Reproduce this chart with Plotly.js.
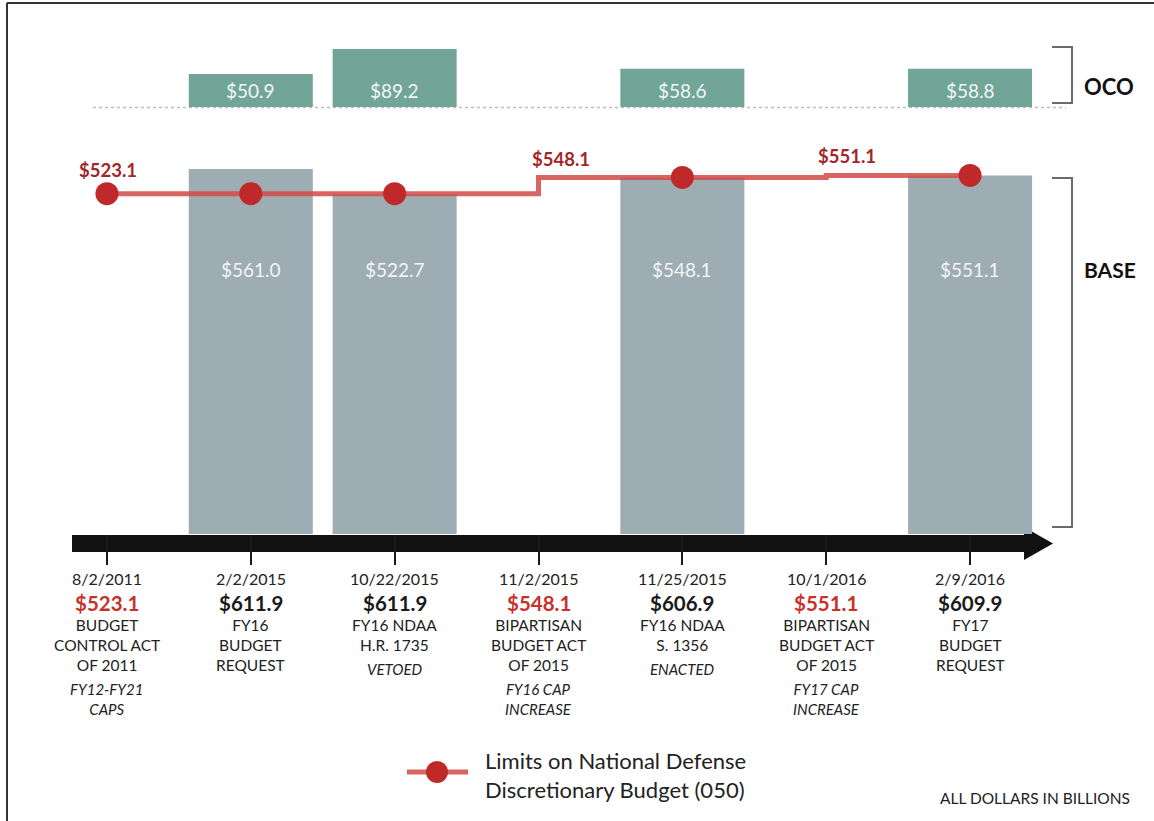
<!DOCTYPE html>
<html>
<head>
<meta charset="utf-8">
<script src="https://cdn.plot.ly/plotly-3.0.1.min.js"></script>
<style>html,body{margin:0;padding:0;background:#fff;}#chart{width:1154px;height:821px;}</style>
</head>
<body>
<div id="chart"></div>
<script>
// ---- data ----
const dates = ['8/2/2011','2/2/2015','10/22/2015','11/2/2015','11/25/2015','10/1/2016','2/9/2016'];
const totals = [523.1, 611.9, 611.9, 548.1, 606.9, 551.1, 609.9];
const isCapEvent = [true, false, false, true, false, true, false];
const descriptions = ['BUDGET<br>CONTROL ACT<br>OF 2011','FY16<br>BUDGET<br>REQUEST','FY16 NDAA<br>H.R. 1735','BIPARTISAN<br>BUDGET ACT<br>OF 2015','FY16 NDAA<br>S. 1356','BIPARTISAN<br>BUDGET ACT<br>OF 2015','FY17<br>BUDGET<br>REQUEST'];
const notes = ['FY12-FY21<br>CAPS','','VETOED','FY16 CAP<br>INCREASE','ENACTED','FY17 CAP<br>INCREASE',''];
const baseVals = [null, 561.0, 522.7, null, 548.1, null, 551.1];
const ocoVals = [null, 50.9, 89.2, null, 58.6, null, 58.8];
const capVals = [523.1, 523.1, 523.1, 548.1, 548.1, 551.1, 551.1];
const showDot = [true, true, true, false, true, false, true];
const legendText = ['Limits on National Defense','Discretionary Budget (050)'];
const noteText = 'ALL DOLLARS IN BILLIONS';

// ---- helpers ----
const W = 1154, H = 821;
const X = p => p / W;
const Y = p => 1 - p / H;
const FONT = 'Lato, "Open Sans", sans-serif';
const idx = dates.map((d, i) => i);
const fmt = v => '$' + v.toFixed(1);
const PXU = 365 / 561.0; // pixels per unit (shared scale)

const RED = '#c0292a';
const traces = [
  {type:'bar', x: idx, y: baseVals, width: 0.862, marker:{color:'#9eacb3'}, hoverinfo:'skip', xaxis:'x', yaxis:'y'},
  {type:'bar', x: idx, y: ocoVals, width: 0.862, marker:{color:'#71a597'}, hoverinfo:'skip', xaxis:'x', yaxis:'y2'},
  {type:'scatter', mode:'lines', x: idx, y: capVals, line:{shape:'hv', color:'rgba(210,74,70,0.85)', width:5}, hoverinfo:'skip', cliponaxis:false, xaxis:'x', yaxis:'y'},
  {type:'scatter', mode:'markers', x: idx.filter(i => showDot[i]), y: capVals.filter((v,i) => showDot[i]),
   marker:{color:RED, size:23, line:{width:0}}, cliponaxis:false, hoverinfo:'skip', xaxis:'x', yaxis:'y'}
];

const annotations = [];
const ann = o => annotations.push(Object.assign({showarrow:false, xanchor:'center', yanchor:'middle'}, o));
// bar value labels
baseVals.forEach((v, i) => { if (v != null) ann({x:i, y:Y(270), xref:'x', yref:'paper', text:fmt(v), font:{family:FONT, size:19, color:'#f3f5f6'}}); });
ocoVals.forEach((v, i) => { if (v != null) ann({x:i, y:Y(90), xref:'x', yref:'paper', text:fmt(v), font:{family:FONT, size:19, color:'#f3f7f5'}}); });
// cap labels
const capShift = {0:{xs:1, ys:24, xa:'center'}, 3:{xs:-9, ys:18, xa:'left'}, 5:{xs:-10, ys:19, xa:'left'}};
isCapEvent.forEach((c, i) => {
  if (!c) return;
  const s = capShift[i];
  ann({x:i, y:capVals[i], xref:'x', yref:'y', text:'<b>'+fmt(capVals[i])+'</b>', xanchor:s.xa, xshift:s.xs, yshift:s.ys, font:{family:FONT, size:18.5, color:'#a3262a'}});
});
// timeline labels
dates.forEach((d, i) => {
  ann({x:i, y:Y(578), xref:'x', yref:'paper', text:d, font:{family:FONT, size:16, color:'#222'}});
  ann({x:i, y:Y(603), xref:'x', yref:'paper', text:'<b>'+fmt(totals[i])+'</b>', font:{family:FONT, size:20.5, color: isCapEvent[i] ? '#c8302c' : '#1a1a1a'}});
  ann({x:i, y:Y(614), xref:'x', yref:'paper', yanchor:'top', text:descriptions[i], font:{family:FONT, size:15.5, color:'#222'}});
  if (notes[i]) {
    const nLines = descriptions[i].split('<br>').length;
    ann({x:i, y:Y(614 + nLines*20 + 4), xref:'x', yref:'paper', yanchor:'top', text:'<i>'+notes[i]+'</i>', font:{family:FONT, size:15, color:'#222'}});
  }
});
// right side labels
ann({x:X(1082), y:Y(87), xref:'paper', yref:'paper', xanchor:'left', text:'<b>OCO</b>', font:{family:FONT, size:22, color:'#111'}});
ann({x:X(1082), y:Y(270), xref:'paper', yref:'paper', xanchor:'left', text:'<b>BASE</b>', font:{family:FONT, size:21, color:'#111'}});
// legend text
ann({x:X(483), y:Y(775), xref:'paper', yref:'paper', xanchor:'left', align:'left', text:legendText.join('<br>'), font:{family:FONT, size:22, color:'#222'}});
ann({x:X(1132), y:Y(798), xref:'paper', yref:'paper', xanchor:'right', text:noteText, font:{family:FONT, size:15.5, color:'#222'}});

const P = (x, y) => X(x) + ',' + Y(y);
const shapes = [
  // frame
  {type:'line', xref:'paper', yref:'paper', x0:X(7), x1:X(1154), y0:Y(3), y1:Y(3), line:{color:'#333', width:2}},
  {type:'line', xref:'paper', yref:'paper', x0:X(7), x1:X(7), y0:Y(3), y1:Y(821), line:{color:'#333', width:2}},
  // dotted OCO baseline
  {type:'line', xref:'paper', yref:'paper', x0:X(93), x1:X(1066), y0:Y(107.5), y1:Y(107.5), layer:'below', line:{color:'#bdbdbd', width:1.5, dash:'dot'}},
  // timeline arrow
  {type:'rect', xref:'paper', yref:'paper', x0:X(72), x1:X(1026), y0:Y(535), y1:Y(552), fillcolor:'#111', line:{width:0}, layer:'below'},
  {type:'path', xref:'paper', yref:'paper', path:'M' + P(1024,527) + ' L' + P(1053,543.5) + ' L' + P(1024,560) + ' Z', fillcolor:'#111', line:{width:0}, layer:'below'},
  // brackets
  {type:'path', xref:'paper', yref:'paper', path:'M' + P(1052,47) + ' L' + P(1072,47) + ' L' + P(1072,103) + ' L' + P(1052,103), line:{color:'#6b6b6b', width:2}},
  {type:'path', xref:'paper', yref:'paper', path:'M' + P(1052,178) + ' L' + P(1072,178) + ' L' + P(1072,527) + ' L' + P(1052,527), line:{color:'#6b6b6b', width:2}},
  // legend glyph
  {type:'line', xref:'paper', yref:'paper', x0:X(407), x1:X(468), y0:Y(772), y1:Y(772), line:{color:'rgba(210,74,70,0.85)', width:5}},
  {type:'circle', xref:'paper', yref:'paper', x0:X(426), x1:X(448), y0:Y(761), y1:Y(783), fillcolor:RED, line:{width:0}}
];

const layout = {
  width: W, height: H, autosize:false,
  margin:{l:0, r:0, t:0, b:0},
  paper_bgcolor:'#fff', plot_bgcolor:'rgba(0,0,0,0)',
  showlegend:false, barmode:'overlay',
  xaxis:{domain:[X(35), X(1042)], range:[-0.5, 6.5], tickvals: idx, ticks:'outside', ticklen:30, tickwidth:2, tickcolor:'#1a1a1a',
         showticklabels:false, showgrid:false, zeroline:false, showline:false, anchor:'y', fixedrange:true},
  yaxis:{domain:[Y(534), Y(140)], range:[0, 394/PXU], visible:false, fixedrange:true},
  yaxis2:{domain:[Y(107), Y(30)], range:[0, 77/PXU], visible:false, anchor:'x', fixedrange:true},
  annotations, shapes,
  font:{family:FONT}
};

Plotly.newPlot('chart', traces, layout, {displayModeBar:false, staticPlot:true});
</script>
</body>
</html>
